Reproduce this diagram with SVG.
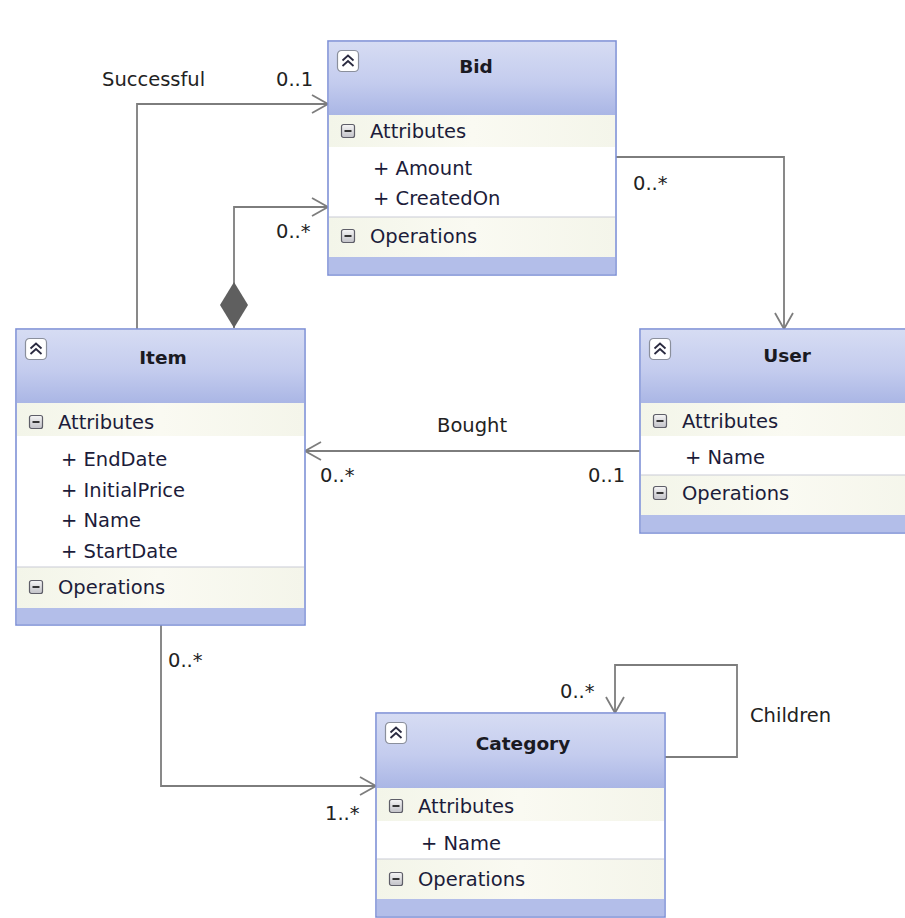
<svg xmlns="http://www.w3.org/2000/svg" xmlns:xlink="http://www.w3.org/1999/xlink" width="905" height="918" viewBox="0 0 905 918">
<style>
.box{fill:#ffffff;stroke:#7f91d6;stroke-width:1.6}
.hdr{fill:url(#hg)}
.row{fill:url(#rg)}
.band{fill:#b3bee9}
.div{stroke:#c9ccd6;stroke-width:1.2}
.title{font-family:"DejaVu Sans",sans-serif;font-size:18.5px;font-weight:bold;fill:#1a1a22;text-anchor:middle}
.sec{font-family:"DejaVu Sans",sans-serif;font-size:19.5px;fill:#1c1c3a}
.lbl{font-family:"DejaVu Sans",sans-serif;font-size:19.5px;fill:#222222}
.con{fill:none;stroke:#7d7d7d;stroke-width:1.8}
</style>
<defs>
<linearGradient id="hg" x1="0" y1="0" x2="0" y2="1">
<stop offset="0" stop-color="#d6dcf3"/>
<stop offset="0.55" stop-color="#c4ccee"/>
<stop offset="1" stop-color="#aab6e5"/>
</linearGradient>
<linearGradient id="rg" x1="0" y1="0" x2="1" y2="0">
<stop offset="0" stop-color="#f3f5e9"/>
<stop offset="0.5" stop-color="#fafaf2"/>
<stop offset="1" stop-color="#f4f5ea"/>
</linearGradient>
<linearGradient id="mg" x1="0" y1="0" x2="0" y2="1">
<stop offset="0" stop-color="#f6f6f6"/>
<stop offset="1" stop-color="#c2c2c8"/>
</linearGradient>
<g id="chev">
<rect x="0.5" y="0.5" width="21" height="21" rx="4" fill="#ffffff" stroke="#8a8f9c" stroke-width="1.2"/>
<path d="M5.5,10.5 L11,5.5 L16.5,10.5 M5.5,16 L11,11 L16.5,16" fill="none" stroke="#2a2a40" stroke-width="1.8"/>
</g>
<g id="minus">
<rect x="0.5" y="0.5" width="13" height="13" rx="2" fill="url(#mg)" stroke="#5e5e68" stroke-width="1.2"/>
<path d="M3.5,7 H10.5" stroke="#222" stroke-width="1.8"/>
</g>
<marker id="arr" viewBox="-18 -11 20 22" refX="0" refY="0" markerWidth="20" markerHeight="22" orient="auto" markerUnits="userSpaceOnUse">
<path d="M-16,-9 L0,0 L-16,9" fill="none" stroke="#7d7d7d" stroke-width="1.8"/>
</marker>
<marker id="dia" viewBox="-1 -15 48 30" refX="0" refY="0" markerWidth="48" markerHeight="30" orient="auto" markerUnits="userSpaceOnUse">
<path d="M0,0 L23,-14 L46,0 L23,14 Z" fill="#5f5f5f"/>
</marker>
</defs>
<rect x="0" y="0" width="905" height="918" fill="#ffffff"/>

<g id="connectors">
<path class="con" d="M137,329 V104 H328" marker-end="url(#arr)"/>
<path class="con" d="M234,328 V207 H328" marker-start="url(#dia)" marker-end="url(#arr)"/>
<path class="con" d="M616,157 H784 V329" marker-end="url(#arr)"/>
<path class="con" d="M640,451 H305" marker-end="url(#arr)"/>
<path class="con" d="M161,625 V786 H376" marker-end="url(#arr)"/>
<path class="con" d="M665,757 H737 V665 H615 V713" marker-end="url(#arr)"/>
<text class="lbl" x="102" y="86">Successful</text>
<text class="lbl" x="276" y="86">0..1</text>
<text class="lbl" x="276" y="238">0..*</text>
<text class="lbl" x="633" y="190">0..*</text>
<text class="lbl" x="437" y="432">Bought</text>
<text class="lbl" x="320" y="482">0..*</text>
<text class="lbl" x="588" y="482">0..1</text>
<text class="lbl" x="168" y="667">0..*</text>
<text class="lbl" x="325" y="820">1..*</text>
<text class="lbl" x="560" y="698">0..*</text>
<text class="lbl" x="750" y="722">Children</text>
</g>

<g id="node-bid">
<rect class="box" x="328" y="41" width="288" height="234"/>
<rect class="hdr" x="329" y="42" width="286" height="73"/>
<rect class="row" x="329" y="115" width="286" height="32"/>
<rect class="row" x="329" y="217" width="286" height="40"/>
<rect class="band" x="329" y="257" width="286" height="17"/>
<line class="div" x1="329" y1="217" x2="615" y2="217"/>
<use href="#chev" x="337" y="50"/>
<text class="title" x="476" y="73">Bid</text>
<use href="#minus" x="341" y="124"/>
<text class="sec" x="370" y="138">Attributes</text>
<text class="sec" x="373" y="175">+ Amount</text>
<text class="sec" x="373" y="205">+ CreatedOn</text>
<use href="#minus" x="341" y="229"/>
<text class="sec" x="370" y="243">Operations</text>
</g>

<g id="node-item">
<rect class="box" x="16" y="329" width="289" height="296"/>
<rect class="hdr" x="17" y="330" width="287" height="73"/>
<rect class="row" x="17" y="403" width="287" height="33"/>
<rect class="row" x="17" y="567" width="287" height="41"/>
<rect class="band" x="17" y="608" width="287" height="16"/>
<line class="div" x1="17" y1="567" x2="304" y2="567"/>
<use href="#chev" x="25" y="338"/>
<text class="title" x="163" y="364">Item</text>
<use href="#minus" x="29" y="415"/>
<text class="sec" x="58" y="429">Attributes</text>
<text class="sec" x="61" y="466">+ EndDate</text>
<text class="sec" x="61" y="497">+ InitialPrice</text>
<text class="sec" x="61" y="527">+ Name</text>
<text class="sec" x="61" y="558">+ StartDate</text>
<use href="#minus" x="29" y="580"/>
<text class="sec" x="58" y="594">Operations</text>
</g>

<g id="node-user">
<rect class="box" x="640" y="329" width="290" height="204"/>
<rect class="hdr" x="641" y="330" width="288" height="73"/>
<rect class="row" x="641" y="403" width="288" height="33"/>
<rect class="row" x="641" y="475" width="288" height="40"/>
<rect class="band" x="641" y="515" width="288" height="17"/>
<line class="div" x1="641" y1="475" x2="929" y2="475"/>
<use href="#chev" x="649" y="338"/>
<text class="title" x="787" y="362">User</text>
<use href="#minus" x="653" y="414"/>
<text class="sec" x="682" y="428">Attributes</text>
<text class="sec" x="685" y="464">+ Name</text>
<use href="#minus" x="653" y="486"/>
<text class="sec" x="682" y="500">Operations</text>
</g>

<g id="node-category">
<rect class="box" x="376" y="713" width="289" height="204"/>
<rect class="hdr" x="377" y="714" width="287" height="74"/>
<rect class="row" x="377" y="788" width="287" height="33"/>
<rect class="row" x="377" y="859" width="287" height="40"/>
<rect class="band" x="377" y="899" width="287" height="17"/>
<line class="div" x1="377" y1="859" x2="664" y2="859"/>
<use href="#chev" x="385" y="722"/>
<text class="title" x="523" y="750">Category</text>
<use href="#minus" x="389" y="799"/>
<text class="sec" x="418" y="813">Attributes</text>
<text class="sec" x="421" y="850">+ Name</text>
<use href="#minus" x="389" y="872"/>
<text class="sec" x="418" y="886">Operations</text>
</g>
</svg>
